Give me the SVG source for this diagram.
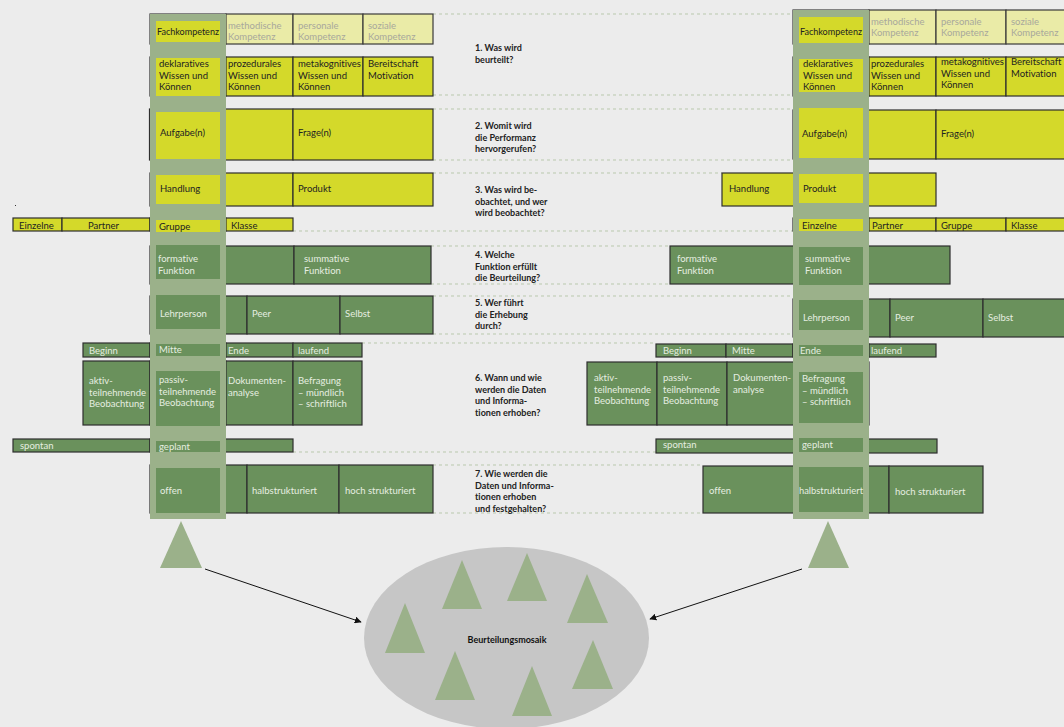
<svg xmlns="http://www.w3.org/2000/svg" width="1064" height="727" viewBox="0 0 1064 727">
<style>
.bg{fill:#ececec}
.p{fill:#eaeba7;stroke:#3a3a3a;stroke-width:1.2}
.y{fill:#d4d92a;stroke:#2e2e2e;stroke-width:1.2}
.g{fill:#6a915c;stroke:#2e2e2e;stroke-width:1.2}
.col{fill:#9bb18a}
.hy{fill:#d4d92a}
.hg{fill:#6a915c}
.tri{fill:#9bb18a}
.d{stroke:#b9c8ad;stroke-width:1;stroke-dasharray:3 3;fill:none}
text{font-family:Lato,"Liberation Sans",sans-serif;font-size:9.5px;font-variant-ligatures:none}
.dk{fill:#222}
.lt{fill:#e6eee0}
.gy{fill:#a8a89c}
.q{font-weight:bold;font-size:9px;fill:#222}
.arr{stroke:#111;stroke-width:1;fill:none;marker-end:url(#ah)}
</style>
<defs>
<marker id="ah" viewBox="0 0 10 10" refX="9" refY="5" markerWidth="7" markerHeight="7" orient="auto" markerUnits="userSpaceOnUse">
<path d="M0,0 L10,5 L0,10 z" fill="#111"/>
</marker>
</defs>
<rect class="bg" x="0" y="0" width="1064" height="727"/>
<rect x="15" y="205" width="1" height="1" fill="#333"/>

<g id="guides">
<line class="d" x1="433" y1="14" x2="793" y2="14"/>
<line class="d" x1="433" y1="95" x2="793" y2="95"/>
<line class="d" x1="433" y1="109" x2="793" y2="109"/>
<line class="d" x1="433" y1="160" x2="793" y2="160"/>
<line class="d" x1="433" y1="173" x2="722" y2="173"/>
<line class="d" x1="293" y1="231" x2="793" y2="231"/>
<line class="d" x1="431" y1="246" x2="670" y2="246"/>
<line class="d" x1="431" y1="284" x2="670" y2="284"/>
<line class="d" x1="433" y1="296" x2="793" y2="296"/>
<line class="d" x1="433" y1="334" x2="793" y2="334"/>
<line class="d" x1="362" y1="343" x2="656" y2="343"/>
<line class="d" x1="293" y1="452" x2="656" y2="452"/>
<line class="d" x1="433" y1="465" x2="703" y2="465"/>
<line class="d" x1="433" y1="513" x2="703" y2="513"/>
</g>

<!-- LEFT ROWS -->
<g id="L1">
<rect class="p" x="150" y="14" width="76" height="30"/>
<g id="L1-meth"><rect class="p" x="226" y="14" width="67" height="30"/><text class="gy" x="228" y="28.5">methodische<tspan x="228" dy="11">Kompetenz</tspan></text></g>
<g id="L1-pers"><rect class="p" x="293" y="14" width="70" height="30"/><text class="gy" x="298" y="28.5">personale<tspan x="298" dy="11">Kompetenz</tspan></text></g>
<g id="L1-soz"><rect class="p" x="363" y="14" width="70" height="30"/><text class="gy" x="368" y="28.5">soziale<tspan x="368" dy="11">Kompetenz</tspan></text></g>
</g>
<g id="L2">
<rect class="y" x="150" y="57" width="76" height="39"/>
<g id="L2-proz"><rect class="y" x="226" y="57" width="67" height="39"/><text class="dk" x="228" y="67">prozedurales<tspan x="228" dy="11.5">Wissen und</tspan><tspan x="228" dy="11.5">Können</tspan></text></g>
<g id="L2-meta"><rect class="y" x="293" y="57" width="70" height="39"/><text class="dk" x="298" y="67">metakognitives<tspan x="298" dy="11.5">Wissen und</tspan><tspan x="298" dy="11.5">Können</tspan></text></g>
<g id="L2-ber"><rect class="y" x="363" y="57" width="70" height="39"/><text class="dk" x="368" y="67">Bereitschaft<tspan x="368" dy="11.5">Motivation</tspan></text></g>
</g>
<g id="L3">
<rect class="y" x="149.5" y="109" width="143.5" height="51"/>
<g id="L3-frage"><rect class="y" x="293" y="109" width="140" height="51"/><text class="dk" x="298" y="136">Frage(n)</text></g>
</g>
<g id="L4">
<rect class="y" x="150" y="173" width="143" height="33"/>
<g id="L4-prod"><rect class="y" x="293" y="173" width="140" height="33"/><text class="dk" x="298" y="192">Produkt</text></g>
</g>
<g id="L5">
<g id="L5-einz"><rect class="y" x="13" y="218" width="49" height="13"/><text class="dk" x="19" y="229">Einzelne</text></g>
<g id="L5-part"><rect class="y" x="62" y="218" width="88" height="13"/><text class="dk" x="88" y="229">Partner</text></g>
<rect class="y" x="150" y="218" width="76" height="13"/>
<g id="L5-klas"><rect class="y" x="226" y="218" width="67" height="13"/><text class="dk" x="231" y="229">Klasse</text></g>
</g>
<g id="L6">
<rect class="g" x="150" y="246" width="144" height="38"/>
<g id="L6-summ"><rect class="g" x="294" y="246" width="137" height="38"/><text class="lt" x="304" y="262">summative<tspan x="304" dy="11.5">Funktion</tspan></text></g>
</g>
<g id="L7">
<rect class="g" x="150" y="296" width="97" height="38"/>
<g id="L7-peer"><rect class="g" x="247" y="296" width="93" height="38"/><text class="lt" x="252" y="317">Peer</text></g>
<g id="L7-selb"><rect class="g" x="340" y="296" width="93" height="38"/><text class="lt" x="345" y="317">Selbst</text></g>
</g>
<g id="L8">
<g id="L8-beg"><rect class="g" x="83" y="343" width="67" height="14"/><text class="lt" x="89" y="353.5">Beginn</text></g>
<rect class="g" x="150" y="343" width="76" height="14"/>
<g id="L8-ende"><rect class="g" x="226" y="343" width="67" height="14"/><text class="lt" x="228" y="353.5">Ende</text></g>
<g id="L8-lauf"><rect class="g" x="293" y="343" width="69" height="14"/><text class="lt" x="298" y="353.5">laufend</text></g>
</g>
<g id="L9">
<g id="L9-akt"><rect class="g" x="83" y="361" width="67" height="64"/><text class="lt" x="89" y="384">aktiv-<tspan x="89" dy="11.5">teilnehmende</tspan><tspan x="89" dy="11.5">Beobachtung</tspan></text></g>
<rect class="g" x="150" y="361" width="76" height="64"/>
<g id="L9-dok"><rect class="g" x="226" y="361" width="67" height="64"/><text class="lt" x="228" y="384">Dokumenten-<tspan x="228" dy="11.5">analyse</tspan></text></g>
<g id="L9-bef"><rect class="g" x="293" y="361" width="69" height="64"/><text class="lt" x="298" y="384">Befragung<tspan x="298" dy="11.5">– mündlich</tspan><tspan x="298" dy="11.5">– schriftlich</tspan></text></g>
</g>
<g id="L10">
<g id="L10-spon"><rect class="g" x="13" y="439" width="137" height="13"/><text class="lt" x="20" y="448.5">spontan</text></g>
<rect class="g" x="150" y="439" width="143" height="13"/>
</g>
<g id="L11">
<rect class="g" x="150" y="465" width="97" height="48"/>
<g id="L11-halb"><rect class="g" x="247" y="465" width="92" height="48"/><text class="lt" x="252" y="494">halbstrukturiert</text></g>
<g id="L11-hoch"><rect class="g" x="339" y="465" width="94" height="48"/><text class="lt" x="345" y="494">hoch strukturiert</text></g>
</g>

<!-- RIGHT ROWS -->
<g id="R1">
<rect class="p" x="793" y="10" width="76" height="34"/>
<g id="R1-meth"><rect class="p" x="869" y="10" width="67" height="34"/><text class="gy" x="871" y="25">methodische<tspan x="871" dy="11">Kompetenz</tspan></text></g>
<g id="R1-pers"><rect class="p" x="936" y="10" width="70" height="34"/><text class="gy" x="941" y="25">personale<tspan x="941" dy="11">Kompetenz</tspan></text></g>
<g id="R1-soz"><rect class="p" x="1006" y="10" width="70" height="34"/><text class="gy" x="1011" y="25">soziale<tspan x="1011" dy="11">Kompetenz</tspan></text></g>
</g>
<g id="R2">
<rect class="y" x="793" y="57" width="76" height="39"/>
<g id="R2-proz"><rect class="y" x="869" y="57" width="67" height="39"/><text class="dk" x="871" y="67">prozedurales<tspan x="871" dy="11.5">Wissen und</tspan><tspan x="871" dy="11.5">Können</tspan></text></g>
<g id="R2-meta"><rect class="y" x="936" y="57" width="70" height="39"/><text class="dk" x="941" y="65">metakognitives<tspan x="941" dy="11.5">Wissen und</tspan><tspan x="941" dy="11.5">Können</tspan></text></g>
<g id="R2-ber"><rect class="y" x="1006" y="57" width="70" height="39"/><text class="dk" x="1011" y="65">Bereitschaft<tspan x="1011" dy="11.5">Motivation</tspan></text></g>
</g>
<g id="R3">
<rect class="y" x="793" y="110" width="143" height="49"/>
<g id="R3-frage"><rect class="y" x="936" y="110" width="140" height="49"/><text class="dk" x="941" y="137">Frage(n)</text></g>
</g>
<g id="R4">
<g id="R4-hand"><rect class="y" x="722" y="173" width="108" height="33"/><text class="dk" x="729" y="192">Handlung</text></g>
<rect class="y" x="830" y="173" width="106" height="33"/>
</g>
<g id="R5">
<rect class="y" x="793" y="218" width="76" height="13"/>
<g id="R5-part"><rect class="y" x="869" y="218" width="67" height="13"/><text class="dk" x="872" y="228.5">Partner</text></g>
<g id="R5-grup"><rect class="y" x="936" y="218" width="70" height="13"/><text class="dk" x="941" y="228.5">Gruppe</text></g>
<g id="R5-klas"><rect class="y" x="1006" y="218" width="70" height="13"/><text class="dk" x="1011" y="228.5">Klasse</text></g>
</g>
<g id="R6">
<g id="R6-form"><rect class="g" x="670" y="246" width="161" height="38"/><text class="lt" x="677" y="262">formative<tspan x="677" dy="11.5">Funktion</tspan></text></g>
<rect class="g" x="831" y="246" width="119" height="38"/>
</g>
<g id="R7">
<rect class="g" x="793" y="299" width="97" height="38"/>
<g id="R7-peer"><rect class="g" x="890" y="299" width="93" height="38"/><text class="lt" x="895" y="321">Peer</text></g>
<g id="R7-selb"><rect class="g" x="983" y="299" width="93" height="38"/><text class="lt" x="988" y="321">Selbst</text></g>
</g>
<g id="R8">
<g id="R8-beg"><rect class="g" x="656" y="344" width="70" height="13"/><text class="lt" x="663" y="354">Beginn</text></g>
<g id="R8-mit"><rect class="g" x="726" y="344" width="67" height="13"/><text class="lt" x="732" y="354">Mitte</text></g>
<rect class="g" x="793" y="344" width="76" height="13"/>
<g id="R8-lauf"><rect class="g" x="869" y="344" width="67" height="13"/><text class="lt" x="871" y="354">laufend</text></g>
</g>
<g id="R9">
<g id="R9-akt"><rect class="g" x="587" y="362" width="70" height="63"/><text class="lt" x="594" y="381">aktiv-<tspan x="594" dy="11.5">teilnehmende</tspan><tspan x="594" dy="11.5">Beobachtung</tspan></text></g>
<g id="R9-pas"><rect class="g" x="657" y="362" width="70" height="63"/><text class="lt" x="663" y="381">passiv-<tspan x="663" dy="11.5">teilnehmende</tspan><tspan x="663" dy="11.5">Beobachtung</tspan></text></g>
<g id="R9-dok"><rect class="g" x="727" y="362" width="73" height="63"/><text class="lt" x="733" y="381">Dokumenten-<tspan x="733" dy="11.5">analyse</tspan></text></g>
<rect class="g" x="800" y="362" width="69" height="63"/>
</g>
<g id="R10">
<g id="R10-spon"><rect class="g" x="656" y="439" width="175" height="14"/><text class="lt" x="663" y="448">spontan</text></g>
<rect class="g" x="831" y="439" width="106" height="14"/>
</g>
<g id="R11">
<g id="R11-off"><rect class="g" x="703" y="466" width="128" height="47"/><text class="lt" x="709" y="494">offen</text></g>
<rect class="g" x="831" y="466" width="58" height="47"/>
<g id="R11-hoch"><rect class="g" x="889" y="466" width="94" height="47"/><text class="lt" x="895" y="495">hoch strukturiert</text></g>
</g>

<!-- COLUMNS -->
<g id="col-left">
<rect class="col" x="150" y="14" width="76" height="505"/>
<g id="CL1"><rect class="hy" x="156" y="21" width="64" height="21"/><text class="dk" x="157" y="35" textLength="62" lengthAdjust="spacingAndGlyphs">Fachkompetenz</text></g>
<g id="CL2"><rect class="hy" x="156" y="58" width="64" height="38"/><text class="dk" x="159" y="67">deklaratives<tspan x="159" dy="11.5">Wissen und</tspan><tspan x="159" dy="11.5">Können</tspan></text></g>
<g id="CL3"><rect class="hy" x="156" y="112" width="64" height="47"/><text class="dk" x="160" y="136">Aufgabe(n)</text></g>
<g id="CL4"><rect class="hy" x="156" y="175" width="64" height="29"/><text class="dk" x="160" y="192">Handlung</text></g>
<g id="CL5"><rect class="hy" x="156" y="220" width="64" height="12"/><text class="dk" x="159" y="229.5">Gruppe</text></g>
<g id="CL6"><rect class="hg" x="156" y="245" width="64" height="34"/><text class="lt" x="158" y="262">formative<tspan x="158" dy="11.5">Funktion</tspan></text></g>
<g id="CL7"><rect class="hg" x="156" y="295" width="64" height="34"/><text class="lt" x="160" y="317">Lehrperson</text></g>
<g id="CL8"><rect class="hg" x="156" y="344" width="64" height="12"/><text class="lt" x="159" y="353">Mitte</text></g>
<g id="CL9"><rect class="hg" x="156" y="371" width="64" height="55"/><text class="lt" x="159" y="383">passiv-<tspan x="159" dy="11.5">teilnehmende</tspan><tspan x="159" dy="11.5">Beobachtung</tspan></text></g>
<g id="CL10"><rect class="hg" x="156" y="441" width="64" height="11"/><text class="lt" x="159" y="450">geplant</text></g>
<g id="CL11"><rect class="hg" x="156" y="468" width="64" height="45"/><text class="lt" x="160" y="494">offen</text></g>
</g>
<g id="col-right">
<rect class="col" x="793" y="10" width="76" height="509"/>
<g id="CR1"><rect class="hy" x="799" y="17" width="64" height="26"/><text class="dk" x="800" y="35" textLength="62" lengthAdjust="spacingAndGlyphs">Fachkompetenz</text></g>
<g id="CR2"><rect class="hy" x="799" y="59" width="64" height="33"/><text class="dk" x="803" y="67">deklaratives<tspan x="803" dy="11.5">Wissen und</tspan><tspan x="803" dy="11.5">Können</tspan></text></g>
<g id="CR3"><rect class="hy" x="799" y="108" width="64" height="50"/><text class="dk" x="802" y="137">Aufgabe(n)</text></g>
<g id="CR4"><rect class="hy" x="799" y="174" width="64" height="29"/><text class="dk" x="803" y="192">Produkt</text></g>
<g id="CR5"><rect class="hy" x="799" y="219" width="64" height="12"/><text class="dk" x="802" y="228.5">Einzelne</text></g>
<g id="CR6"><rect class="hg" x="799" y="247" width="64" height="38"/><text class="lt" x="805" y="262">summative<tspan x="805" dy="11.5">Funktion</tspan></text></g>
<g id="CR7"><rect class="hg" x="799" y="300" width="64" height="30"/><text class="lt" x="803" y="321">Lehrperson</text></g>
<g id="CR8"><rect class="hg" x="799" y="345" width="64" height="11"/><text class="lt" x="800" y="354">Ende</text></g>
<g id="CR9"><rect class="hg" x="799" y="372" width="64" height="51"/><text class="lt" x="802" y="382">Befragung<tspan x="802" dy="11.5">– mündlich</tspan><tspan x="802" dy="11.5">– schriftlich</tspan></text></g>
<g id="CR10"><rect class="hg" x="799" y="438" width="64" height="14"/><text class="lt" x="802" y="448">geplant</text></g>
<g id="CR11"><rect class="hg" x="799" y="467" width="64" height="45"/><text class="lt" x="799" y="494" textLength="64" lengthAdjust="spacingAndGlyphs">halbstrukturiert</text></g>
</g>

<!-- QUESTIONS -->
<g id="Q1"><text class="q" x="475" y="51">1. Was wird<tspan x="475" dy="11.5">beurteilt?</tspan></text></g>
<g id="Q2"><text class="q" x="475" y="129">2. Womit wird<tspan x="475" dy="11.5">die Performanz</tspan><tspan x="475" dy="11.5">hervorgerufen?</tspan></text></g>
<g id="Q3"><text class="q" x="475" y="193">3. Was wird be-<tspan x="475" dy="11.5">obachtet, und wer</tspan><tspan x="475" dy="11.5">wird beobachtet?</tspan></text></g>
<g id="Q4"><text class="q" x="475" y="258">4. Welche<tspan x="475" dy="11.5">Funktion erfüllt</tspan><tspan x="475" dy="11.5">die Beurteilung?</tspan></text></g>
<g id="Q5"><text class="q" x="475" y="306">5. Wer führt<tspan x="475" dy="11.5">die Erhebung</tspan><tspan x="475" dy="11.5">durch?</tspan></text></g>
<g id="Q6"><text class="q" x="475" y="381">6. Wann und wie<tspan x="475" dy="11.5">werden die Daten</tspan><tspan x="475" dy="11.5">und Informa-</tspan><tspan x="475" dy="11.5">tionen erhoben?</tspan></text></g>
<g id="Q7"><text class="q" x="475" y="477">7. Wie werden die<tspan x="475" dy="11.5">Daten und Informa-</tspan><tspan x="475" dy="11.5">tionen erhoben</tspan><tspan x="475" dy="11.5">und festgehalten?</tspan></text></g>

<!-- TRIANGLES -->
<g id="tri-left"><polygon class="tri" points="181,521 160,568 202,568"/></g>
<g id="tri-right"><polygon class="tri" points="828,521 808,568 849,568"/></g>

<!-- MOSAIK -->
<g id="mosaik">
<ellipse cx="506.5" cy="638" rx="142.5" ry="91" fill="#c6c6c6"/>
<polygon class="tri" points="462,560 442,609 482,609"/>
<polygon class="tri" points="527,553 507,601 547,601"/>
<polygon class="tri" points="587,574 567,623 608,623"/>
<polygon class="tri" points="405,603 385,653 425,653"/>
<polygon class="tri" points="455,651 435,700 475,700"/>
<polygon class="tri" points="532,666 512,716 552,716"/>
<polygon class="tri" points="593,640 572,689 613,689"/>
<text x="507" y="643" text-anchor="middle" style="font-weight:bold;font-size:9px;fill:#111">Beurteilungsmosaik</text>
</g>

<g id="connectors">
<line class="arr" x1="205" y1="569" x2="361" y2="622"/>
<line class="arr" x1="802" y1="569" x2="650" y2="619"/>
</g>
</svg>
